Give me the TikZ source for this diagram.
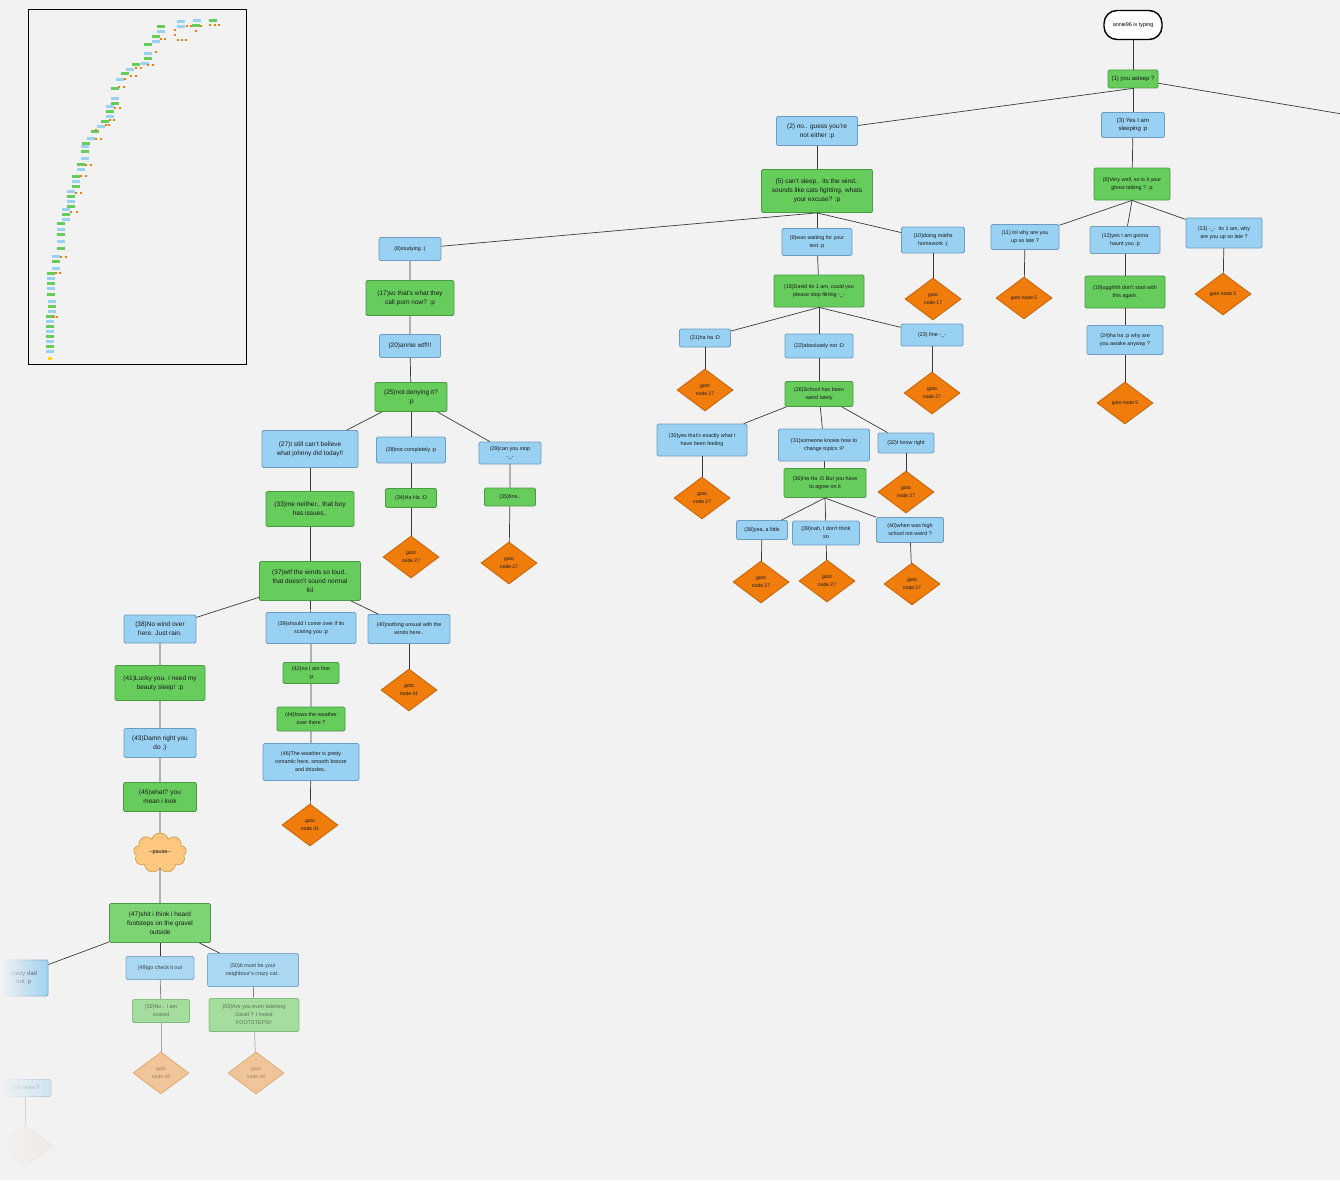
\documentclass[tikz,border=0pt]{standalone}
\usepackage{fontspec}
\setmainfont{Liberation Sans}
\usetikzlibrary{shapes.geometric,shapes.symbols}
\definecolor{chatBg}{HTML}{F2F2F2}
\definecolor{chatBlue}{HTML}{99D1F3}
\definecolor{chatBlueLine}{HTML}{6F9DC0}
\definecolor{chatGreen}{HTML}{66CC5C}
\definecolor{chatGreenLine}{HTML}{4A9A44}
\definecolor{chatOrange}{HTML}{F07C0C}
\definecolor{chatOrangeLine}{HTML}{C86408}
\definecolor{chatCloud}{HTML}{FFC880}
\definecolor{chatCloudLine}{HTML}{D49A4A}
\definecolor{chatEdge}{HTML}{3A3A3A}
\newcommand{\chatsmall}{\fontsize{5.4}{8}\selectfont}
\newcommand{\chatmid}{\fontsize{6}{8.5}\selectfont}
\newcommand{\chatbig}{\fontsize{6.5}{9}\selectfont}
\tikzset{
  msg/.style={rectangle, rounded corners=1.5pt, line width=0.8pt, inner sep=1pt, align=center, text=black!90, font=\chatsmall},
  anniesays/.style={msg, draw=chatBlueLine, fill=chatBlue},
  davidsays/.style={msg, draw=chatGreenLine, fill=chatGreen},
  gotonode/.style={diamond, draw=chatOrangeLine, fill=chatOrange, line width=0.8pt, inner sep=0pt, minimum width=56pt, minimum height=42pt, align=center, text=black!90, font=\fontsize{5}{8}\selectfont},
  bigtext/.style={font=\chatbig},
  midtext/.style={font=\chatmid},
  sz/.style 2 args={minimum width=#1pt, minimum height=#2pt},
  faded/.style={opacity=#1},
  link/.style={chatEdge, line width=0.7pt},
}
\begin{document}
\begin{tikzpicture}[x=1pt, y=-1pt]
\fill[chatBg] (0,0) rectangle (1340,1180);
\useasboundingbox (0,0) rectangle (1340,1180);
\clip (0,0) rectangle (1340,1180);

% overview map
\draw[black, line width=1pt, fill=chatBg] (28,10) rectangle (246,364);
\foreach \x/\y [count=\i] in {197/19,213/19,181/20,196/24,181/25,161/25,161/30,156/35,156/40,148/43,148/52,148/57,145/62,136/63,130/68,125/72,120/78,115/87,115/97,115/102,110/105,110/110,110/115,105/120,101/125,95/130,91/137,86/142,85/145,85/150,85/157,81/163,81/168,76/175,76/180,76/185,71/190,71/195,71/200,71/205,66/208,66/213,66/218,61/222,61/228,61/233,61/240,61/247,56/255,56/260,56/267,51/272,51/277,51/282,51/287,51/293,52/300,52/305,52/310,50/315,50/320,50/325,50/330,50/335,50/340,50/345,50/350}
{
  \ifodd\i \def\mapcol{chatBlue}\else\def\mapcol{chatGreen}\fi
  \fill[\mapcol] (\x-4,\y) rectangle ++(8,2.6);
}
\foreach \x/\y in {175/30,187/26,191/26,196/31,201/26,210/25,215/25,219/25,175/35,178/40,182/40,186/40,161/39,165/39,156/52,148/65,153/65,136/68,141/68,131/76,136/76,125/79,119/87,124/87,115/108,120/108,110/120,114/120,106/125,109/125,96/130,96/139,101/139,86/165,91/165,81/176,86/176,76/193,81/193,71/212,77/212,61/257,66/257,56/273,60/273,54/317,57/317}
  \fill[chatOrange] (\x-1.3,\y-1.3) rectangle ++(2.6,2.6);
\fill[yellow!80!orange] (48,357) rectangle ++(4,3);

% right part of the tree
\node[draw=black, line width=1.4pt, fill=white, rounded corners=13pt, sz={58}{29}, font=\chatsmall] (start) at (1133,25) {annie96 is typing};
\node[davidsays, midtext, sz={50}{18}] (n1) at (1133,79) {(1) you asleep ?};
\coordinate (offright) at (1342,114);
\node[anniesays, midtext, sz={63}{25}] (n3) at (1133,125) {(3) Yes I am\\sleeping :p};
\node[davidsays, sz={76}{32}] (n6) at (1132,184) {(6)Very well, so is it your\\ghost talking ? :p};
\node[anniesays, sz={68}{25}] (n11) at (1025,237) {(11) lol why are you\\up so late ?};
\node[anniesays, sz={70}{27}] (n12) at (1125,240) {(12)yes I am gonna\\haunt you :p};
\node[anniesays, sz={76}{30}] (n13) at (1224,233) {(13) -\_-\ \ its 1 am, why\\are you up so late ?};
\node[gotonode] (g11) at (1024,298) {goto node 5};
\node[gotonode] (g13) at (1223,294) {goto node 5};
\node[davidsays, sz={80}{32}] (n19) at (1125,292) {(19)ugghhh don't start with\\this again.};
\node[anniesays, sz={76}{29}] (n24) at (1125,340) {(24)ha ha :p why are\\you awake anyway ?};
\node[gotonode] (g24) at (1125,403) {goto node 5};

% middle part
\node[anniesays, bigtext, sz={81}{29}] (n2) at (817,131) {(2) no.. guess you're\\not either :p};
\node[davidsays, bigtext, sz={111}{43}] (n5) at (817,191) {(5) can't sleep.. its the wind..\\sounds like cats fighting. whats\\your excuse? :p};
\node[anniesays, sz={62}{23}] (n8) at (410,249) {(8)studying :(};
\node[anniesays, sz={70}{27}] (n9) at (817,242) {(9)was waiting for your\\text :p};
\node[anniesays, sz={63}{26}] (n10) at (933,240) {(10)doing maths\\homework :(};
\node[gotonode] (g10) at (933,299) {goto\\node 17};
\node[davidsays, sz={90}{32}] (n18) at (819,291) {(18)David its 1 am, could you\\please stop flirting -\_-};
\node[anniesays, sz={51}{18}] (n21) at (705,338) {(21)ha ha :D};
\node[anniesays, sz={68}{24}] (n22) at (819,346) {(22)absolutely not :D};
\node[anniesays, sz={62}{22}] (n23) at (932,335) {(23) fine -\_-};
\node[gotonode] (g21) at (705,390) {goto\\node 27};
\node[gotonode] (g23) at (932,393) {goto\\node 27};
\node[davidsays, sz={68}{25}] (n26) at (819,394) {(26)School has been\\weird lately};
\node[anniesays, sz={90}{32}] (n30) at (702,440) {(30)yes that's exactly what I\\have been feeling};
\node[anniesays, sz={91}{32}] (n31) at (824,445) {(31)someone knows how to\\change topics :P};
\node[anniesays, sz={56}{20}] (n32) at (906,443) {(32)I know right};
\node[gotonode] (g30) at (702,498) {goto\\node 27};
\node[gotonode] (g32) at (906,492) {goto\\node 27};
\node[davidsays, sz={82}{29}] (n36) at (825,483) {(36)Ha Ha :D But you have\\to agree on it};
\node[anniesays, sz={51}{19}] (n38) at (762,530) {(38)yea, a little};
\node[anniesays, sz={67}{24}] (n39) at (826,533) {(39)nah, I don't think\\so};
\node[anniesays, sz={67}{25}] (n40) at (910,530) {(40)when was high\\school not weird ?};
\node[gotonode] (g38) at (761,582) {goto\\node 27};
\node[gotonode] (g39) at (827,581) {goto\\node 27};
\node[gotonode] (g40) at (912,584) {goto\\node 27};

% left part
\node[davidsays, bigtext, sz={88}{35}] (n17) at (410,298) {(17)so that's what they\\call porn now? :p};
\node[anniesays, bigtext, sz={61}{23}] (n20) at (410,346) {(20)annie wtf!!!};
\node[davidsays, bigtext, sz={72}{29}] (n25) at (411,397) {(25)not denying it?\\:p};
\node[anniesays, bigtext, sz={96}{37}] (n27) at (310,449) {(27)I still can't believe\\what johnny did today!!};
\node[anniesays, sz={69}{26}] (n28) at (411,450) {(28)not completely :p};
\node[anniesays, sz={62}{22}] (n29) at (510,453) {(29)can you stop\\-\_-};
\node[davidsays, bigtext, sz={88}{35}] (n33) at (310,509) {(33)me neither.. that boy\\has issues..};
\node[davidsays, sz={51}{19}] (n34) at (411,498) {(34)Ha Ha :D};
\node[davidsays, sz={51}{18}] (n35) at (510,497) {(35)fine..};
\node[gotonode] (g34) at (411,557) {goto\\node 27};
\node[gotonode] (g35) at (509,563) {goto\\node 27};
\node[davidsays, bigtext, sz={101}{39}] (n37) at (310,581) {(37)wtf the winds so loud..\\that doesn't sound normal\\lol};
\node[anniesays, bigtext, sz={72}{28}] (l38) at (160,629) {(38)No wind over\\here. Just rain.};
\node[anniesays, sz={90}{31}] (l39) at (311,628) {(39)should I come over if its\\scaring you :p};
\node[anniesays, sz={82}{29}] (l40) at (409,629) {(40)nothing unsual with the\\winds here..};
\node[gotonode] (gl40) at (409,690) {goto\\node 41};
\node[davidsays, bigtext, sz={90}{35}] (n41) at (160,683) {(41)Lucky you. i need my\\beauty sleep! :p};
\node[davidsays, sz={56}{21}] (n42) at (311,673) {(42)no I am fine\\:p};
\node[davidsays, sz={68}{24}] (n44) at (311,719) {(44)hows the weather\\over there ?};
\node[anniesays, sz={96}{37}] (n46) at (311,762) {(46)The weather is pretty\\romantic here, smooth brezze\\and drizzles..};
\node[gotonode] (g46) at (310,825) {goto\\node 41};
\node[anniesays, bigtext, sz={72}{29}] (n43) at (160,743) {(43)Damn right you\\do ;)};
\node[davidsays, bigtext, sz={73}{29}] (n45) at (160,797) {(45)what? you\\mean i look};
\node[cloud, cloud puffs=9, aspect=1.3, draw=chatCloudLine, fill=chatCloud, line width=0.7pt, inner sep=0pt, sz={53}{40}, font=\chatsmall] (pause) at (160,853) {-{}-pause-{}-};
\node[davidsays, bigtext, fill=chatGreen!85!white, sz={101}{39}] (n47) at (160,923) {(47)shit i think i heard\\footsteps on the gravel\\outside};
\node[anniesays, midtext, faded=0.85, sz={72}{36}] (n48) at (12,978) {\hspace*{24pt}crazy dad\\\hspace*{24pt}out :p};
\node[anniesays, faded=0.8, sz={68}{23}] (n49) at (160,968) {(49)go check it out};
\node[anniesays, faded=0.8, sz={91}{33}] (n50) at (253,970) {(50)It must be your\\neighbour's crazy cat..};
\node[davidsays, faded=0.55, sz={57}{23}] (n52) at (161,1011) {(52)No.. I am\\scared};
\node[davidsays, faded=0.55, sz={90}{33}] (n53) at (254,1015) {(53)Are you even listening\\David ? I heard\\FOOTSTEPS!!};
\node[gotonode, faded=0.38] (g52) at (161,1073) {goto\\node 48};
\node[gotonode, faded=0.38] (g53) at (256,1073) {goto\\node 48};
\node[anniesays, faded=0.35, sz={52}{17}] (n54) at (25,1088) {until when ?};
\node[gotonode, faded=0.05] (g54) at (25,1146) {};

% connectors
\draw[link] (start) -- (n1);
\draw[link] (n1.south) -- (n2);
\draw[link] (n1) -- (n3);
\draw[link] (n1) -- (offright);
\draw[link] (n3) -- (n6);
\draw[link] (n6.south) -- (n11);
\draw[link] (n6.south) -- (n12);
\draw[link] (n6.south) -- (n13);
\draw[link] (n11) -- (g11);
\draw[link] (n13) -- (g13);
\draw[link] (n12) -- (n19) -- (n24) -- (g24);
\draw[link] (n2) -- (n5);
\draw[link] (n5.south) -- (n8);
\draw[link] (n5.south) -- (n9);
\draw[link] (n5.south) -- (n10);
\draw[link] (n9) -- (n18);
\draw[link] (n10) -- (g10);
\draw[link] (n18.south) -- (n21);
\draw[link] (n18.south) -- (n22);
\draw[link] (n18.south) -- (n23);
\draw[link] (n21) -- (g21);
\draw[link] (n23) -- (g23);
\draw[link] (n22) -- (n26);
\draw[link] (n26) -- (n30);
\draw[link] (n26) -- (n31);
\draw[link] (n26) -- (n32);
\draw[link] (n30) -- (g30);
\draw[link] (n32) -- (g32);
\draw[link] (n31) -- (n36);
\draw[link] (n36.south) -- (n38);
\draw[link] (n36.south) -- (n39);
\draw[link] (n36.south) -- (n40);
\draw[link] (n38) -- (g38);
\draw[link] (n39) -- (g39);
\draw[link] (n40) -- (g40);
\draw[link] (n8) -- (n17) -- (n20) -- (n25);
\draw[link] (n25) -- (n27);
\draw[link] (n25) -- (n28);
\draw[link] (n25) -- (n29);
\draw[link] (n27) -- (n33) -- (n37);
\draw[link] (n28) -- (n34) -- (g34);
\draw[link] (n29) -- (n35) -- (g35);
\draw[link] (n37) -- (l38);
\draw[link] (n37) -- (l39);
\draw[link] (n37) -- (l40);
\draw[link] (l40) -- (gl40);
\draw[link] (l38) -- (n41) -- (n43) -- (n45) -- (pause) -- (n47);
\draw[link] (l39) -- (n42) -- (n44) -- (n46) -- (g46);
\draw[link] (n47) -- (n48);
\draw[link] (n47) -- (n49);
\draw[link] (n47) -- (n50);
\draw[link, faded=0.6] (n49) -- (n52);
\draw[link, faded=0.6] (n50) -- (n53);
\draw[link, faded=0.4] (n52) -- (g52);
\draw[link, faded=0.4] (n53) -- (g53);
\draw[link, faded=0.3] (n54) -- (g54);

% fading at the left edge
\foreach \i [evaluate=\i as \op using {1-\i/22}] in {0,...,21}
  \fill[chatBg, opacity=\op] ({\i*2},930) rectangle ({\i*2+2.2},1180);
\end{tikzpicture}
\end{document}
